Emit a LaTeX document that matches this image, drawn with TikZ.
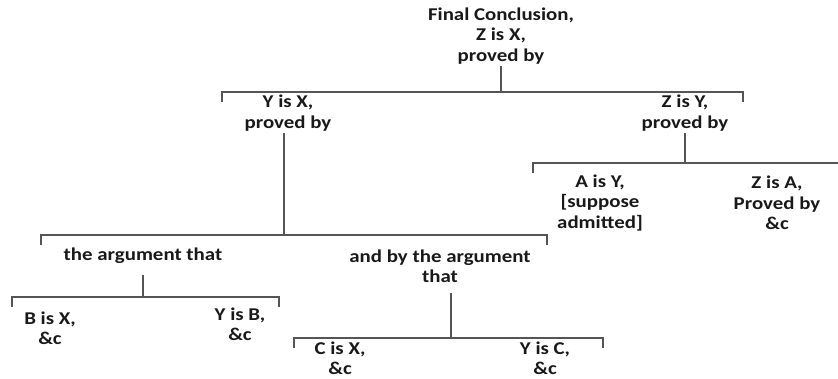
\documentclass[tikz,border=0pt]{standalone}
\usepackage{fontspec}
\setmainfont{Carlito}[FakeStretch=1.16]
\usetikzlibrary{positioning,calc}
\definecolor{inkgray}{RGB}{25,25,25}
\definecolor{linegray}{RGB}{85,85,85}

\begin{document}
\begin{tikzpicture}[x=1pt, y=-1pt,
  txt/.style={align=center, inner sep=2pt, text=inkgray,
              font=\bfseries\fontsize{18}{20.5}\selectfont},
  link/.style={draw=linegray, line width=1.3pt}
]
  \useasboundingbox (0,0) rectangle (838,378);

  \node[txt] (concl) at (501,36) {Final Conclusion,\\Z is X,\\proved by};

  \node[txt] (yx) at (288,113) {Y is X,\\proved by};
  \node[txt] (zy) at (685,113) {Z is Y,\\proved by};

  \node[txt] (ay) at (600,203) {A is Y,\\{[}suppose\\admitted]};
  \node[txt] (za) at (777,203) {Z is A,\\Proved by\\\&c};

  \node[txt] (arga) at (143,256) {the argument that};
  \node[txt] (argb) at (440,266) {and by the argument\\that};

  \node[txt] (bx) at (50,328) {B is X,\\\&c};
  \node[txt] (yb) at (240,324) {Y is B,\\\&c};
  \node[txt] (cx) at (340,358) {C is X,\\\&c};
  \node[txt] (yc) at (545,358) {Y is C,\\\&c};

  \coordinate (barAl) at (222,92);  \coordinate (barAr) at (743,92);
  \coordinate (barBl) at (533,163); \coordinate (barBr) at (838,163);
  \coordinate (barCl) at (41,235);  \coordinate (barCr) at (547,235);
  \coordinate (barDl) at (12,297);  \coordinate (barDr) at (279,297);
  \coordinate (barEl) at (294,338); \coordinate (barEr) at (603,338);

  \draw[link] ([yshift=-10pt]barAl) -- (barAl) -- (barAr) -- ([yshift=-10pt]barAr);
  \draw[link] ([yshift=-10pt]barBl) -- (barBl) -- (barBr);
  \draw[link] ([yshift=-10pt]barCl) -- (barCl) -- (barCr) -- ([yshift=-10pt]barCr);
  \draw[link] ([yshift=-10pt]barDl) -- (barDl) -- (barDr) -- ([yshift=-10pt]barDr);
  \draw[link] ([yshift=-10pt]barEl) -- (barEl) -- (barEr) -- ([yshift=-10pt]barEr);

  \draw[link] (concl.south) -- (concl.south |- barAl);
  \draw[link] ([xshift=-4pt]yx.south) -- ([xshift=-4pt]yx.south |- barCl);
  \draw[link] (zy.south) -- (zy.south |- barBl);
  \draw[link] ([yshift=-9pt]arga.south) -- (arga.south |- barDl);
  \draw[link] ([xshift=11pt,yshift=-8pt]argb.south) -- ([xshift=11pt]argb.south |- barEl);
\end{tikzpicture}
\end{document}
